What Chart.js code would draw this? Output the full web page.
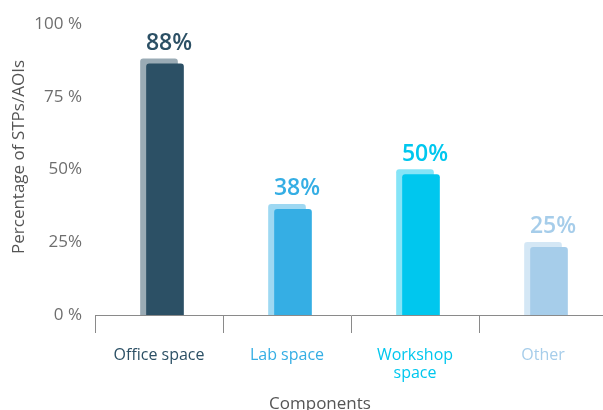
<!DOCTYPE html>
<html>
<head>
<meta charset="utf-8">
<script src="https://cdn.jsdelivr.net/npm/chart.js@4.4.1/dist/chart.umd.min.js"></script>
<style>
  body { margin: 0; overflow: hidden; background: #fff; }
  #wrap { width: 607px; height: 410px; position: relative; }
</style>
</head>
<body>
<div id="wrap"><canvas id="componentsChart"></canvas></div>
<script>
var categories = ["Office space", "Lab space", ["Workshop", "space"], "Other"];
var shares = [88, 38, 50, 25];
var yTicks = [0, 25, 50, 75, 100];
var yTickLabels = ["0 %", "25%", "50%", "75 %", "100 %"];
var barColors = ["#2c5065", "#35aee4", "#00c7ee", "#a6cdea"];

var fontFamily = "'Open Sans', 'DejaVu Sans', sans-serif";

function fade(hex, a) {
    var n = parseInt(hex.slice(1), 16);
    return "rgba(" + (n >> 16) + "," + ((n >> 8) & 255) + "," + (n & 255) + "," + a + ")";
}

// front bars are drawn shifted right/down over their lighter copy
var shiftPlugin = {
    id: 'shiftFront',
    beforeDatasetDraw: function(chart, args) {
        if (args.index !== 0) return;
        var a = chart.chartArea, ctx = chart.ctx;
        ctx.save();
        ctx.beginPath();
        ctx.rect(a.left, a.top - 20, a.right - a.left, a.bottom - a.top + 20);
        ctx.clip();
        ctx.translate(6, 5);
    },
    afterDatasetDraw: function(chart, args) {
        if (args.index !== 0) return;
        chart.ctx.restore();
    }
};

var labelPlugin = {
    id: 'valueLabels',
    afterDatasetsDraw: function(chart) {
        var ctx = chart.ctx;
        var meta = chart.getDatasetMeta(1);
        ctx.save();
        ctx.font = "600 23px " + fontFamily;
        ctx.textAlign = "center";
        ctx.textBaseline = "alphabetic";
        meta.data.forEach(function(bar, i) {
            ctx.fillStyle = barColors[i];
            ctx.fillText(shares[i] + "%", bar.x + 10, bar.y - 9);
        });

        // axis titles
        ctx.fillStyle = "#555";
        ctx.font = "17px " + fontFamily;
        ctx.textBaseline = "alphabetic";
        ctx.fillText("Components", 320, 409);
        ctx.translate(19, 157);
        ctx.rotate(-Math.PI / 2);
        ctx.textBaseline = "middle";
        ctx.fillText("Percentage of STPs/AOIs", 0, 0);
        ctx.restore();
    }
};

var ctx = document.getElementById("componentsChart").getContext('2d');

var chart = new Chart(ctx, {
    type: 'bar',
    data: {
        labels: categories,
        datasets: [{
            label: 'Share',
            data: shares,
            backgroundColor: barColors
        }, {
            label: 'Share (back)',
            data: shares,
            backgroundColor: barColors.map(function(c) { return fade(c, 0.48); })
        }]
    },
    options: {
        responsive: true,
        maintainAspectRatio: false,
        animation: false,
        layout: { padding: { top: 24, left: 0, right: 0, bottom: 0 } },
        datasets: {
            bar: {
                grouped: false,
                barThickness: 37,
                borderRadius: { topLeft: 3, topRight: 3 },
                borderSkipped: 'start'
            }
        },
        plugins: {
            legend: { display: false },
            tooltip: { enabled: false }
        },
        scales: {
            x: {
                grid: {
                    display: true,
                    drawOnChartArea: false,
                    drawTicks: true,
                    tickLength: 18,
                    color: '#8a8a8a'
                },
                border: { display: true, color: '#8a8a8a', width: 1 },
                ticks: {
                    padding: 14,
                    color: function(c) { return barColors[c.index]; },
                    font: { family: fontFamily, size: 16, lineHeight: 1.1 }
                },
                afterFit: function(s) { s.height = 95; }
            },
            y: {
                min: 0,
                max: 100,
                grid: { display: false },
                border: { display: false },
                afterBuildTicks: function(s) {
                    s.ticks = yTicks.map(function(v) { return { value: v }; });
                },
                ticks: {
                    padding: 5,
                    color: '#6e6e6e',
                    font: { family: fontFamily, size: 17 },
                    callback: function(v) { return yTickLabels[yTicks.indexOf(v)]; }
                },
                afterFit: function(s) { s.width = 95; }
            }
        }
    },
    plugins: [shiftPlugin, labelPlugin]
});
</script>
</body>
</html>
